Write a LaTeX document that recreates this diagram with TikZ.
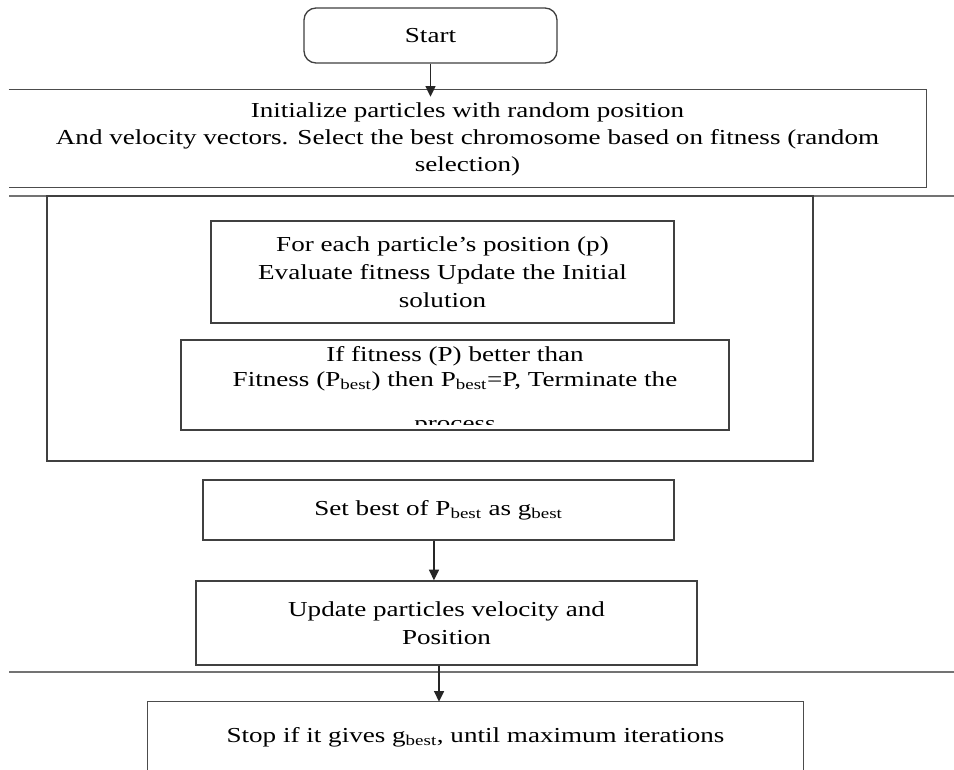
\documentclass[tikz,border=0pt]{standalone}
\usepackage{fontspec}
\setmainfont{Liberation Serif}[FakeStretch=1.27]
\usetikzlibrary{arrows.meta,calc}
\begin{document}
\begin{tikzpicture}[x=0.75pt,y=-0.75pt,
  box/.style={draw=black!75,line width=1pt,rectangle,inner sep=0pt},
  geom/.style={rectangle,inner sep=0pt},
  txt/.style={font=\fontsize{16}{21}\selectfont,align=center,inner sep=0pt},
  arr/.style={draw=black!85,line width=1pt,-{Triangle[length=8pt,width=7.5pt]}},
  frame/.style={draw=black!70,line width=1pt},
  rulel/.style={draw=black!55,line width=1.3pt}]
\useasboundingbox (0,0) rectangle (954,769);
\fill[white] (0,0) rectangle (954,769);

% Start
\node[box,txt,rounded corners=9pt,minimum width=189.75pt,minimum height=41.25pt] (start) at (430.5,35.5) {Start};

% Initialization (open on the left)
\node[geom,minimum width=687.75pt,minimum height=72.75pt] (init) at (467.5,138.5) {};
\draw[frame] (init.north west) -- (init.north east) -- (init.south east) -- (init.south west);
\node[txt,font=\fontsize{16}{20.25}\selectfont] (inittxt) at (467.5,139) {Initialize particles with random position\\And velocity vectors. Select the best chromosome based on fitness (random\\selection)};

% separator rule
\draw[rulel] (9,196) -- (954,196);

% Outer loop box
\node[box,minimum width=574.5pt,minimum height=198.75pt] (outer) at (430,328.5) {};

% Inner box 1
\node[box,txt,minimum width=347.25pt,minimum height=76.5pt] (inner1) at (442.5,272) {For each particle’s position (p)\\Evaluate fitness Update the Initial\\solution};

% Inner box 2 (last line clipped)
\node[box,minimum width=411pt,minimum height=67.5pt] (inner2) at (455,385) {};
\begin{scope}
\clip (inner2.north west) rectangle ([yshift=4.5pt]inner2.south east);
\node[txt,font=\fontsize{16}{19}\selectfont] (inner2txt) at (455,390.5) {If fitness (P) better than\\Fitness (P\textsubscript{best}) then P\textsubscript{best}=P, Terminate the\\[14pt]process};
\end{scope}

% Set best
\node[box,txt,minimum width=353.25pt,minimum height=45pt] (setbest) at (438.5,510) {\raisebox{-1.5pt}{Set best of P\textsubscript{best} as g\textsubscript{best}}};

% Update
\node[box,txt,minimum width=375.75pt,minimum height=63pt] (update) at (446.5,623) {Update particles velocity and\\Position};

% second separator rule
\draw[rulel] (9,672) -- (954,672);

% Stop (open at the bottom)
\node[geom,txt,minimum width=491.25pt,minimum height=52.5pt] (stop) at (475.5,737) {Stop if it gives g\textsubscript{best}, until maximum iterations};
\draw[frame] (stop.north west |- 0,771) -- (stop.north west) -- (stop.north east) -- (stop.north east |- 0,771);

% Arrows
\draw[arr] (start.south) -- ([yshift=-5.25pt]start.south |- init.north);
\draw[arr] ([xshift=-3.4pt]setbest.south) -- ([xshift=-3.4pt]setbest.south |- update.north);
\draw[arr] ([xshift=-5.6pt]update.south) -- ([xshift=-5.6pt]update.south |- stop.north);
\end{tikzpicture}
\end{document}
